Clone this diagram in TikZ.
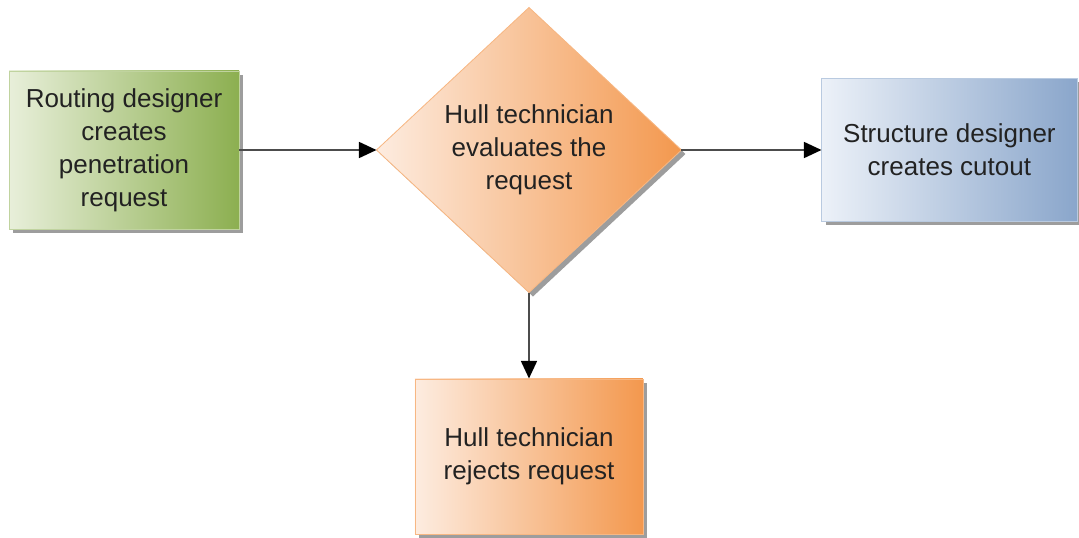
\documentclass[tikz,border=0pt]{standalone}
\usepackage{fontspec}
\setmainfont{Liberation Sans}
\usepackage{tikz}
\usetikzlibrary{arrows.meta,positioning,shapes.geometric,shadows}
\definecolor{greenlight}{RGB}{232,239,218}
\definecolor{greendark}{RGB}{140,175,80}
\definecolor{orangelight}{RGB}{253,236,224}
\definecolor{orangedark}{RGB}{243,152,78}
\definecolor{bluelight}{RGB}{236,241,248}
\definecolor{bluedark}{RGB}{138,166,203}
\definecolor{textgray}{RGB}{34,34,34}

\begin{document}
\begin{tikzpicture}[
    font=\fontsize{18.5}{23.5}\selectfont,
    task/.style={draw, align=center, text=textgray, line width=0.6pt, inner sep=2pt,
                 drop shadow={shadow xshift=0.1cm, shadow yshift=-0.1cm, fill=black!55, opacity=0.7}},
    greentask/.style={task, draw=greendark!55, left color=greenlight, right color=greendark},
    orangetask/.style={task, draw=orangedark!70, left color=orangelight, right color=orangedark},
    bluetask/.style={task, draw=bluedark!60, left color=bluelight, right color=bluedark},
    line/.style={-{Triangle[length=4.4mm,width=4mm,color=black]}, line width=1.3pt, black!70}
]
\useasboundingbox (-13.225,3.75) rectangle (13.75,-9.7);
\node[orangetask, diamond, aspect=1.07, inner sep=0pt, outer sep=0pt,
      minimum width=7.625cm, minimum height=7.125cm] (evaluate)
     {Hull technician\\evaluates the\\request};
\node[greentask, left=3.425cm of evaluate, minimum width=5.75cm, minimum height=3.95cm] (routing)
     {Routing designer\\creates\\penetration\\request};
\node[bluetask, right=3.5cm of evaluate, minimum width=6.375cm, minimum height=3.575cm] (cutout)
     {Structure designer\\creates cutout};
\node[orangetask, below=2.15cm of evaluate, minimum width=5.7cm, minimum height=3.875cm] (reject)
     {Hull technician\\rejects request};
\draw[line] (routing) -- (evaluate);
\draw[line] (evaluate) -- (cutout);
\draw[line] (evaluate) -- (reject);
\end{tikzpicture}
\end{document}
